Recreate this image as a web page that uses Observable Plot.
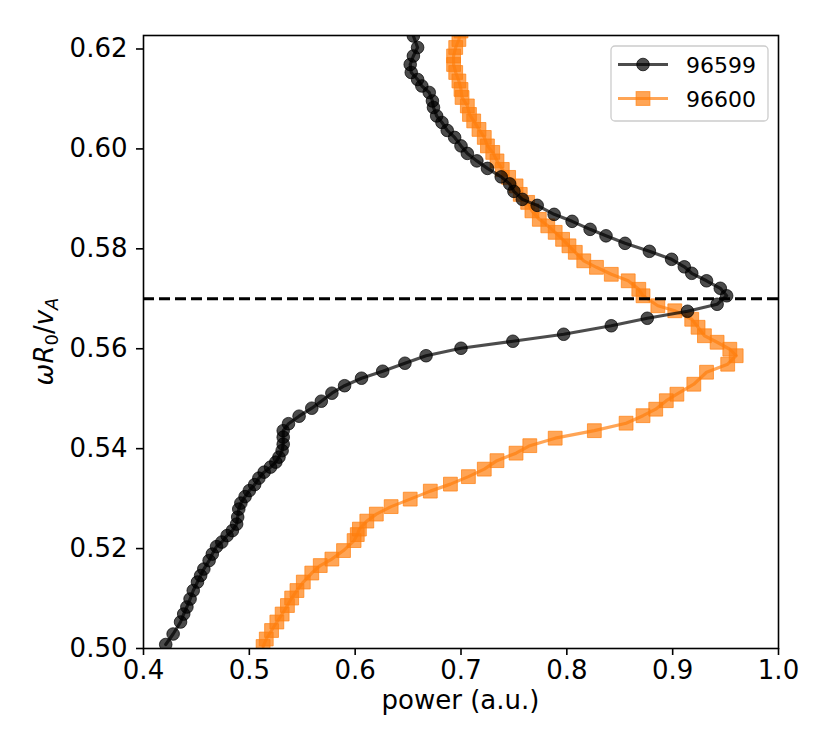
<!DOCTYPE html>
<html>
<head>
<meta charset="utf-8">
<script src="https://cdn.jsdelivr.net/npm/d3@7"></script>
<script src="https://cdn.jsdelivr.net/npm/@observablehq/plot@0.6"></script>
<style>
  html, body { margin: 0; padding: 0; background: #fff; }
  #chart svg { display: block; }
</style>
</head>
<body>
<div id="chart"></div>
<script>
// ---------- data ----------
const seriesNames = ["96599", "96600"];
const seriesColors = ["#000000", "#ff7f0e"];

const power96599 = [0.421,0.428,0.435,0.438,0.441,0.444,0.447,0.451,0.454,0.457,0.462,0.465,0.469,0.474,0.479,0.484,0.488,0.489,0.490,0.492,0.496,0.500,0.505,0.509,0.514,0.520,0.525,0.528,0.531,0.532,0.532,0.532,0.537,0.547,0.559,0.568,0.578,0.590,0.606,0.626,0.647,0.667,0.700,0.749,0.797,0.842,0.876,0.914,0.942,0.951,0.945,0.932,0.918,0.911,0.899,0.878,0.855,0.837,0.822,0.805,0.788,0.772,0.758,0.750,0.746,0.738,0.725,0.715,0.706,0.700,0.694,0.687,0.682,0.677,0.674,0.673,0.670,0.663,0.659,0.653,0.652,0.655,0.659,0.655];
const freq96599 = [0.5008,0.5029,0.5053,0.5069,0.5083,0.5099,0.5116,0.5133,0.5146,0.5159,0.5176,0.5189,0.5204,0.5213,0.5226,0.5236,0.5249,0.5263,0.5279,0.5291,0.5304,0.5316,0.5328,0.5341,0.5353,0.5363,0.5373,0.5383,0.5396,0.5409,0.5423,0.5436,0.5450,0.5465,0.5481,0.5495,0.5511,0.5526,0.5541,0.5555,0.5571,0.5586,0.5601,0.5615,0.5629,0.5646,0.5661,0.5675,0.5689,0.5706,0.5721,0.5736,0.5751,0.5764,0.5779,0.5795,0.5811,0.5826,0.5839,0.5855,0.5869,0.5887,0.5899,0.5915,0.5930,0.5944,0.5961,0.5976,0.5991,0.6006,0.6023,0.6037,0.6053,0.6066,0.6083,0.6096,0.6113,0.6126,0.6139,0.6153,0.6169,0.6186,0.6203,0.6226];

const power96600 = [0.513,0.516,0.521,0.526,0.531,0.536,0.540,0.545,0.551,0.559,0.567,0.578,0.589,0.599,0.602,0.604,0.611,0.620,0.634,0.652,0.671,0.690,0.707,0.722,0.734,0.752,0.765,0.789,0.826,0.856,0.872,0.884,0.894,0.904,0.920,0.932,0.952,0.960,0.954,0.942,0.930,0.924,0.918,0.902,0.886,0.872,0.868,0.858,0.842,0.828,0.816,0.808,0.802,0.796,0.789,0.782,0.774,0.767,0.763,0.756,0.752,0.745,0.739,0.734,0.730,0.725,0.722,0.717,0.712,0.708,0.706,0.701,0.700,0.698,0.695,0.693,0.693,0.695,0.698,0.700];
const freq96600 = [0.5004,0.5019,0.5036,0.5053,0.5069,0.5086,0.5101,0.5116,0.5133,0.5151,0.5166,0.5179,0.5196,0.5216,0.5228,0.5239,0.5255,0.5269,0.5284,0.5299,0.5315,0.5329,0.5344,0.5359,0.5376,0.5391,0.5406,0.5421,0.5436,0.5451,0.5466,0.5479,0.5496,0.5509,0.5529,0.5553,0.5569,0.5586,0.5599,0.5613,0.5626,0.5643,0.5659,0.5676,0.5686,0.5706,0.5719,0.5736,0.5749,0.5763,0.5776,0.5793,0.5806,0.5819,0.5833,0.5846,0.5859,0.5876,0.5893,0.5909,0.5926,0.5943,0.5959,0.5976,0.5993,0.6006,0.6023,0.6039,0.6056,0.6069,0.6086,0.6103,0.6119,0.6136,0.6153,0.6169,0.6186,0.6203,0.6219,0.6236];

const referenceFreq = [0.57];
const xTicks = [0.4, 0.5, 0.6, 0.7, 0.8, 0.9, 1.0];
const yTicks = [0.50, 0.52, 0.54, 0.56, 0.58, 0.60, 0.62];
const xDomain = [0.4, 1.0];
const yDomain = [0.50, 0.6227];
const xLabel = "power (a.u.)";

// ---------- build tables ----------
const black = power96599.map((p, i) => ({series: seriesNames[0], power: p, freq: freq96599[i]}));
const orange = power96600.map((p, i) => ({series: seriesNames[1], power: p, freq: freq96600[i]}));

const W = 830, H = 755;
const mL = 143, mR = 52, mT = 35, mB = 107;
const FONT = "DejaVu Sans";

const chart = Plot.plot({
  width: W, height: H,
  marginLeft: mL, marginRight: mR, marginTop: mT, marginBottom: mB,
  style: {fontFamily: FONT, fontSize: "26px", background: "white", color: "black", overflow: "visible"},
  x: {domain: xDomain, ticks: xTicks, tickFormat: d3.format(".1f"), tickSize: 7, tickPadding: 5, label: null},
  y: {domain: yDomain, ticks: yTicks, tickFormat: d3.format(".2f"), tickSize: 7, tickPadding: 9, label: null},
  marks: [
    Plot.line(orange, {x: "power", y: "freq", stroke: seriesColors[1], strokeOpacity: 0.7, strokeWidth: 3.2, clip: true}),
    Plot.dot(orange, {x: "power", y: "freq", symbol: "square", r: 7.8, fill: seriesColors[1], fillOpacity: 0.7,
                      stroke: seriesColors[1], strokeOpacity: 0.7, strokeWidth: 1, clip: true}),
    Plot.line(black, {x: "power", y: "freq", stroke: seriesColors[0], strokeOpacity: 0.7, strokeWidth: 3.2, clip: true}),
    Plot.dot(black, {x: "power", y: "freq", r: 6.3, fill: seriesColors[0], fillOpacity: 0.7,
                     stroke: seriesColors[0], strokeOpacity: 0.7, strokeWidth: 1, clip: true}),
    Plot.ruleY(referenceFreq, {stroke: "black", strokeWidth: 3, strokeDasharray: "11,5"}),
    Plot.frame({stroke: "black", strokeWidth: 1.6})
  ]
});

const svg = d3.select(chart);
svg.selectAll('g[aria-label="x-axis tick"], g[aria-label="y-axis tick"]')
   .attr("stroke-width", 1.6)
   .selectAll("*").attr("stroke-width", 1.6);

// x label
svg.append("text")
  .attr("x", (mL + (W - mR)) / 2)
  .attr("y", 709)
  .attr("text-anchor", "middle")
  .attr("font-family", FONT)
  .attr("font-size", 26)
  .attr("fill", "black")
  .text(xLabel);

// y label: ωR0/vA (math style)
const yl = svg.append("text")
  .attr("transform", `translate(53,${(mT + (H - mB)) / 2}) rotate(-90)`)
  .attr("text-anchor", "middle")
  .attr("font-family", FONT)
  .attr("font-size", 26)
  .attr("fill", "black");
yl.append("tspan").attr("font-style", "italic").text("ωR");
yl.append("tspan").attr("font-size", 18).attr("dy", 5).text("0");
yl.append("tspan").attr("dy", -5).text("/");
yl.append("tspan").attr("font-style", "italic").text("v");
yl.append("tspan").attr("font-style", "italic").attr("font-size", 18).attr("dy", 5).text("A");

// legend
const lg = svg.append("g").attr("font-family", FONT).attr("font-size", 22).attr("text-anchor", "start");
lg.append("rect")
  .attr("x", 611).attr("y", 46).attr("width", 157).attr("height", 75)
  .attr("rx", 4).attr("fill", "white").attr("fill-opacity", 0.8)
  .attr("stroke", "#cccccc").attr("stroke-width", 1.3);
const rows = [
  {name: seriesNames[0], color: seriesColors[0], y: 64.5, shape: "circle"},
  {name: seriesNames[1], color: seriesColors[1], y: 98.5, shape: "square"}
];
rows.forEach(r => {
  lg.append("line").attr("x1", 618).attr("x2", 668).attr("y1", r.y).attr("y2", r.y)
    .attr("stroke", r.color).attr("stroke-opacity", 0.7).attr("stroke-width", 3.2);
  if (r.shape === "circle") {
    lg.append("circle").attr("cx", 643).attr("cy", r.y).attr("r", 6.3)
      .attr("fill", r.color).attr("fill-opacity", 0.7)
      .attr("stroke", r.color).attr("stroke-opacity", 0.7).attr("stroke-width", 1);
  } else {
    lg.append("rect").attr("x", 643 - 6.9).attr("y", r.y - 6.9).attr("width", 13.8).attr("height", 13.8)
      .attr("fill", r.color).attr("fill-opacity", 0.7)
      .attr("stroke", r.color).attr("stroke-opacity", 0.7).attr("stroke-width", 1);
  }
  lg.append("text").attr("x", 686).attr("y", r.y + 8.5).attr("text-anchor", "start").attr("fill", "black").text(r.name);
});

document.getElementById("chart").appendChild(chart);
</script>
</body>
</html>
